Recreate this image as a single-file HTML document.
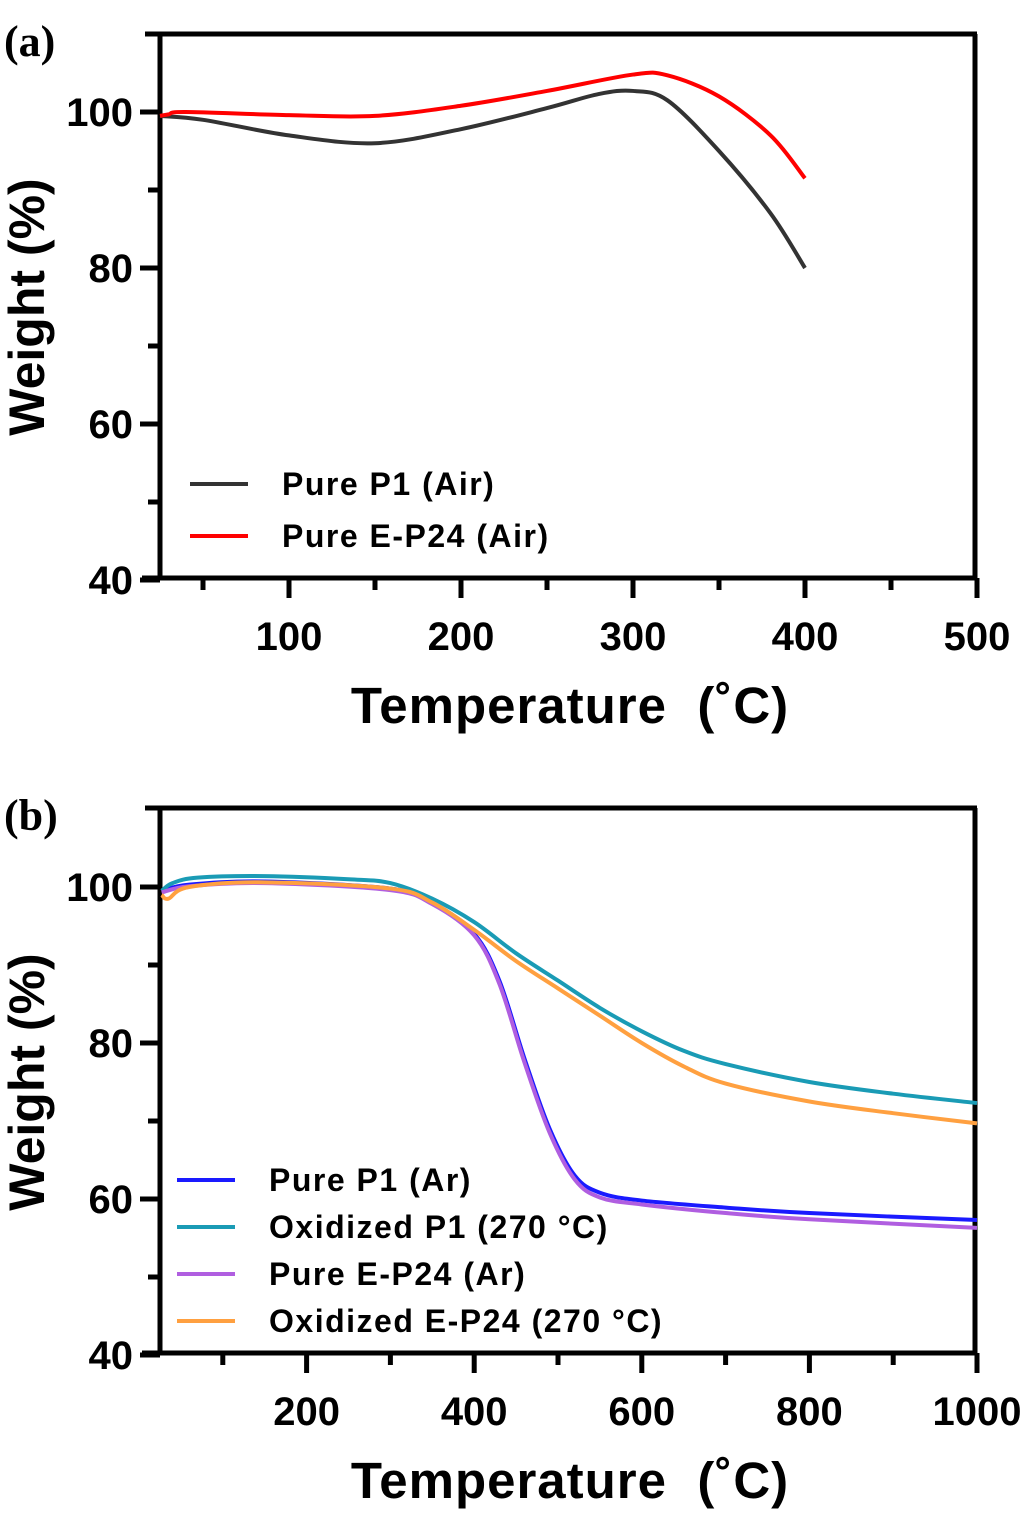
<!DOCTYPE html>
<html><head><meta charset="utf-8"><style>
html,body{margin:0;padding:0;background:#fff;}
svg{display:block;font-family:"Liberation Sans",Arial,sans-serif;}
</style></head><body>
<svg id="fig" width="1024" height="1527" viewBox="0 0 1024 1527">
<g id="pa"></g>
<g id="pb"></g>
</svg>
<script>
// Panel a data
const aXTicks=[100,200,300,400,500];
const aYTicks=[40,60,80,100];
const aNames=["Pure P1 (Air)","Pure E-P24 (Air)"];
const aColors=["#333333","#ff0000"];
const aP1X=[25,50,100,150,200,250,280,300,320,350,380,400];
const aP1Y=[99.5,99,97,96,97.8,100.5,102.3,102.7,101.5,95,87,80];
const aE24X=[25,30,40,100,150,200,250,300,320,350,380,400];
const aE24Y=[99.5,99.7,100,99.6,99.5,100.8,102.7,104.8,104.7,102,97,91.5];
// Panel b data
const bXTicks=[200,400,600,800,1000];
const bYTicks=[40,60,80,100];
const bNames=["Pure P1 (Ar)","Oxidized P1 (270 °C)","Pure E-P24 (Ar)","Oxidized E-P24 (270 °C)"];
const bColors=["#1a1aff","#1a9bb5","#b05ee0","#ffa040"];
const bP1X=[27,60,150,300,350,400,430,460,490,520,550,600,700,800,1000];
const bP1Y=[99.5,100.3,100.7,99.8,98,94,88,78,69,63,60.8,59.8,58.9,58.2,57.3];
const bOxP1X=[27,40,70,150,250,300,350,400,450,500,550,600,650,700,800,900,1000];
const bOxP1Y=[99.5,100.5,101.2,101.4,101,100.5,98.5,95.5,91.5,88,84.5,81.5,79,77.3,75,73.5,72.3];
const bE24X=[27,60,150,300,350,400,430,460,490,520,550,600,700,800,1000];
const bE24Y=[99.3,100.1,100.5,99.6,97.8,93.8,87.6,77.5,68.5,62.5,60.2,59.3,58.2,57.4,56.3];
const bOxE24X=[27,35,60,150,300,350,400,450,500,550,600,650,700,800,900,1000];
const bOxE24Y=[99,98.5,100,100.6,99.8,98,94.5,90.5,87,83.5,80,77,74.8,72.5,71,69.7];

const NS="http://www.w3.org/2000/svg";
function mk(parent,tag,attrs,text){const e=document.createElementNS(NS,tag);for(const k in attrs)e.setAttribute(k,attrs[k]);if(text!==undefined)e.textContent=text;parent.appendChild(e);return e;}
function smooth(pts){let d="M"+pts[0][0]+","+pts[0][1];for(let i=0;i<pts.length-1;i++){const p0=pts[Math.max(i-1,0)],p1=pts[i],p2=pts[i+1],p3=pts[Math.min(i+2,pts.length-1)];const c1=[p1[0]+(p2[0]-p0[0])/6,p1[1]+(p2[1]-p0[1])/6],c2=[p2[0]-(p3[0]-p1[0])/6,p2[1]-(p3[1]-p1[1])/6];d+=" C"+c1[0]+","+c1[1]+" "+c2[0]+","+c2[1]+" "+p2[0]+","+p2[1];}return d;}

function panel(g,cfg){
  const sx=v=>cfg.x0+v*cfg.kx, sy=v=>cfg.y100-(v-100)*7.8;
  let e;
  e=mk(g,"line",{x1:cfg.left,y1:cfg.top+2,x2:cfg.left,y2:cfg.bottom,stroke:"#000","stroke-width":5});
  
  e=mk(g,"line",{x1:cfg.left-18,y1:cfg.bottom,x2:cfg.right+2,y2:cfg.bottom,stroke:"#000","stroke-width":5});
  
  e=mk(g,"line",{x1:cfg.left-15,y1:cfg.top,x2:cfg.right+2,y2:cfg.top,stroke:"#000","stroke-width":5});
  
  e=mk(g,"line",{x1:cfg.right,y1:cfg.top,x2:cfg.right,y2:cfg.bottom,stroke:"#000","stroke-width":5});
  
  cfg.yTicks.forEach(v=>{const y=sy(v);
    e=mk(g,"line",{x1:cfg.left-20,y1:y,x2:cfg.left,y2:y,stroke:"#000","stroke-width":5});
    
    e=mk(g,"text",{x:cfg.left-27,y:y+14,"text-anchor":"end","font-size":40,"font-weight":"bold"},String(v));
    
    if(v<100){const ym=sy(v+10);
      e=mk(g,"line",{x1:cfg.left-12,y1:ym,x2:cfg.left,y2:ym,stroke:"#000","stroke-width":5});
      }
  });
  cfg.xTicks.forEach(v=>{const x=sx(v);
    e=mk(g,"line",{x1:x,y1:cfg.bottom,x2:x,y2:cfg.bottom+20,stroke:"#000","stroke-width":5});
    
    e=mk(g,"text",{x:x,y:cfg.bottom+72,"text-anchor":"middle","font-size":40,"font-weight":"bold"},String(v));
    
    const xm=sx(v-cfg.xStep/2);
    e=mk(g,"line",{x1:xm,y1:cfg.bottom,x2:xm,y2:cfg.bottom+12,stroke:"#000","stroke-width":5});
    
  });
  cfg.series.forEach((s,i)=>{
    const pts=s.x.map((v,j)=>[sx(v),sy(s.y[j])]);
    e=mk(g,"path",{d:smooth(pts),fill:"none",stroke:cfg.colors[i],"stroke-width":4,"stroke-linejoin":"round"});
    
  });
  cfg.names.forEach((n,i)=>{const y=cfg.legY+i*cfg.legDy;
    e=mk(g,"line",{x1:cfg.legX,y1:y,x2:cfg.legX+58,y2:y,stroke:cfg.colors[i],"stroke-width":4});
    
    e=mk(g,"text",{x:cfg.legX+92,y:y+11,"font-size":32,"font-weight":"bold","letter-spacing":"1.5"},n);
    
  });
  e=mk(g,"text",{x:570,y:cfg.bottom+145,"text-anchor":"middle","font-size":51,"font-weight":"bold","xml:space":"preserve","style":"white-space:pre","letter-spacing":"1"},"Temperature  (˚C)");
  
  e=mk(g,"text",{x:0,y:0,"text-anchor":"middle","font-size":50,"font-weight":"bold",transform:"translate(44,"+cfg.yTitleY+") rotate(-90)"},"Weight (%)");
  
  e=mk(g,"text",{x:4,y:cfg.top+22,"font-size":44,"font-weight":"bold","font-family":"Liberation Serif,serif"},cfg.label);
  
}
panel(document.getElementById('pa'),{x0:117,kx:1.72,y100:112,left:160,right:975,top:34,bottom:578,
  xTicks:aXTicks,yTicks:aYTicks,xStep:100,names:aNames,colors:aColors,
  series:[{x:aP1X,y:aP1Y},{x:aE24X,y:aE24Y}],legX:190,legY:484,legDy:52,yTitleY:307,label:"(a)"});
panel(document.getElementById('pb'),{x0:139,kx:0.838,y100:887,left:160,right:975,top:808,bottom:1353,
  xTicks:bXTicks,yTicks:bYTicks,xStep:200,names:bNames,colors:bColors,
  series:[{x:bP1X,y:bP1Y},{x:bOxP1X,y:bOxP1Y},{x:bE24X,y:bE24Y},{x:bOxE24X,y:bOxE24Y}],legX:177,legY:1180,legDy:47,yTitleY:1082,label:"(b)"});
</script>
</body></html>
